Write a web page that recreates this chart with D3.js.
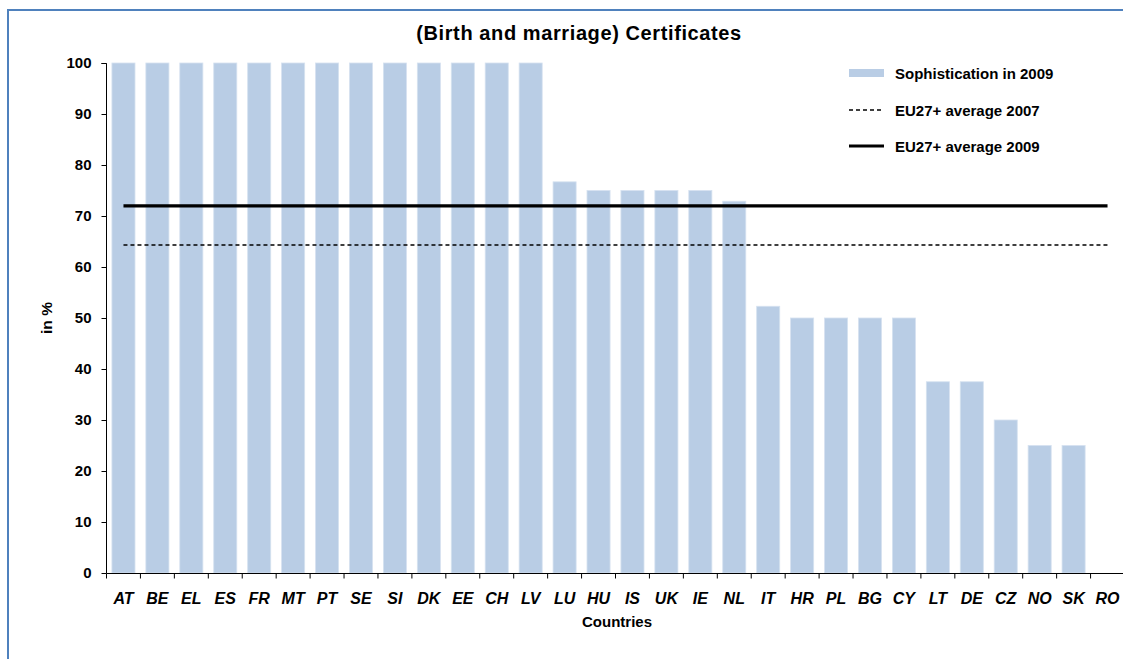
<!DOCTYPE html>
<html>
<head>
<meta charset="utf-8">
<script src="https://cdn.jsdelivr.net/npm/d3@7"></script>
<style>
  html, body { margin: 0; padding: 0; background: #fff; }
  svg { display: block; font-family: "Liberation Sans", Arial, sans-serif; }
</style>
</head>
<body>
<svg id="chart" width="1123" height="659"></svg>
<script>
// Sophistication of online (birth and marriage) certificate services, 2009
const countries = ["AT","BE","EL","ES","FR","MT","PT","SE","SI","DK","EE","CH","LV",
                   "LU","HU","IS","UK","IE","NL","IT","HR","PL","BG","CY","LT","DE",
                   "CZ","NO","SK","RO"];
const sophistication2009 = [100,100,100,100,100,100,100,100,100,100,100,100,100,
                            76.7,75,75,75,75,72.9,52.3,50,50,50,50,37.5,37.5,
                            30,25,25,0];
const average2007 = 64.3;
const average2009 = 72;
const yTicks = [0,10,20,30,40,50,60,70,80,90,100];
const legendLabels = ["Sophistication in 2009", "EU27+ average 2007", "EU27+ average 2009"];

const svg = d3.select("#chart");
const barColor = "#b9cde5";

// outer frame
svg.append("rect")
  .attr("x", 8).attr("y", 10)
  .attr("width", 1130).attr("height", 670)
  .attr("fill", "none").attr("stroke", "#4f81bd").attr("stroke-width", 2);

const x = d3.scaleBand().domain(countries).range([106.5, 1124.5]).paddingInner(0.32).paddingOuter(0.16);
const xc = d3.scalePoint().domain(countries).range([106.5, 1124.5]).padding(0.5);
const y = d3.scaleLinear().domain([0, 100]).range([573, 63]);

// title
svg.append("text")
  .attr("x", 579).attr("y", 40)
  .attr("text-anchor", "middle")
  .attr("font-size", 20).attr("font-weight", "bold")
  .attr("letter-spacing", 0.6)
  .text("(Birth and marriage) Certificates");

// bars
svg.append("g").selectAll("rect")
  .data(countries.map((c, i) => ({ c, v: sophistication2009[i] })))
  .join("rect")
  .attr("x", d => x(d.c))
  .attr("width", x.bandwidth())
  .attr("y", d => y(d.v))
  .attr("height", d => y(0) - y(d.v))
  .attr("fill", barColor)
  .attr("stroke", "#d6e2f0").attr("stroke-width", 0.8);

// average lines across category centres
const first = xc(countries[0]), last = xc(countries[countries.length - 1]);
svg.append("line")
  .attr("x1", first).attr("x2", last)
  .attr("y1", y(average2007)).attr("y2", y(average2007))
  .attr("stroke", "#000").attr("stroke-width", 1.6).attr("stroke-dasharray", "4,3");
svg.append("line")
  .attr("x1", first).attr("x2", last)
  .attr("y1", y(average2009)).attr("y2", y(average2009))
  .attr("stroke", "#000").attr("stroke-width", 3.2);

// y axis
const yAxis = svg.append("g")
  .attr("transform", "translate(106.5,0)")
  .call(d3.axisLeft(y).tickValues(yTicks).tickSize(5).tickPadding(10));
yAxis.select(".domain").attr("stroke", "#000").attr("d", "M-5,63.5H0V573");
yAxis.selectAll("text").attr("font-size", 15).attr("font-weight", "bold")
  .attr("font-family", "Liberation Sans, Arial, sans-serif").attr("fill", "#000");
yAxis.selectAll("line").attr("stroke", "#000");

// x axis
const xAxis = svg.append("g")
  .attr("transform", "translate(0,573.5)");
xAxis.append("line").attr("x1", 106.5).attr("x2", 1124).attr("stroke", "#000");
xAxis.selectAll("line.tick")
  .data(d3.range(countries.length + 1))
  .join("line")
  .attr("class", "tick")
  .attr("x1", i => 106.5 + i * x.step()).attr("x2", i => 106.5 + i * x.step())
  .attr("y1", 0).attr("y2", 5).attr("stroke", "#000");
xAxis.selectAll("text")
  .data(countries)
  .join("text")
  .attr("x", d => xc(d))
  .attr("y", 30)
  .attr("text-anchor", "middle")
  .attr("font-size", 16).attr("font-weight", "bold").attr("font-style", "italic")
  .text(d => d);

// axis titles
svg.append("text")
  .attr("x", 617).attr("y", 627)
  .attr("text-anchor", "middle")
  .attr("font-size", 15).attr("font-weight", "bold")
  .text("Countries");
svg.append("text")
  .attr("transform", "translate(52,318) rotate(-90)")
  .attr("text-anchor", "middle")
  .attr("font-size", 15.5).attr("font-weight", "bold")
  .text("in %");

// legend
const legend = svg.append("g").attr("transform", "translate(849,0)");
const ly = [73, 110, 146];
legend.append("rect").attr("x", 0).attr("y", ly[0] - 4).attr("width", 35).attr("height", 8).attr("fill", barColor);
legend.append("line").attr("x1", 0).attr("x2", 35).attr("y1", ly[1]).attr("y2", ly[1])
  .attr("stroke", "#000").attr("stroke-width", 1.6).attr("stroke-dasharray", "4,3");
legend.append("line").attr("x1", 0).attr("x2", 35).attr("y1", ly[2]).attr("y2", ly[2])
  .attr("stroke", "#000").attr("stroke-width", 3.2);
legend.selectAll("text.lbl")
  .data(legendLabels)
  .join("text")
  .attr("class", "lbl")
  .attr("x", 46).attr("y", (d, i) => ly[i] + 5.5)
  .attr("font-size", 15).attr("font-weight", "bold")
  .text(d => d);
</script>
</body>
</html>
